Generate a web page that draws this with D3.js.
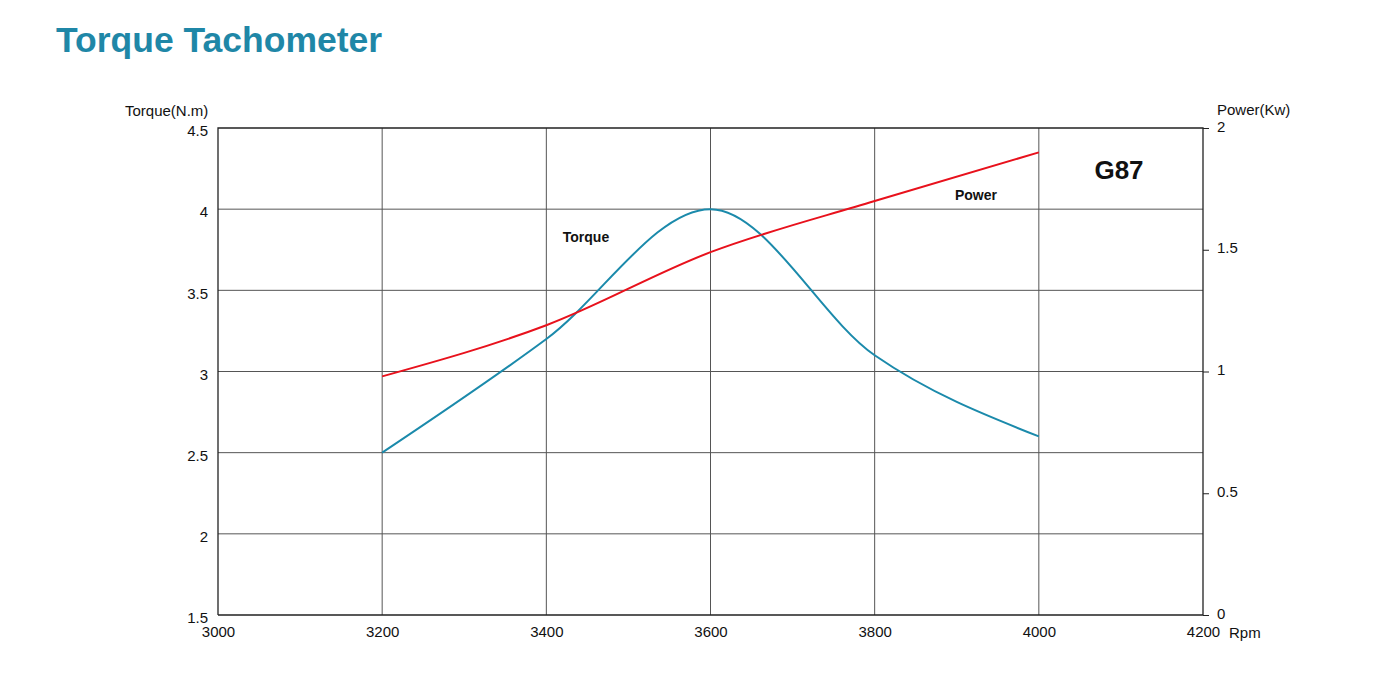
<!DOCTYPE html>
<html><head><meta charset="utf-8">
<script src="https://cdn.jsdelivr.net/npm/d3@7/dist/d3.min.js"></script>
<style>
body{margin:0;background:#fff;}
svg text{font-family:"Liberation Sans",Arial,sans-serif;}
</style></head>
<body><svg id="c" width="1400" height="683"></svg>
<script>
const rpm = [3200, 3400, 3600, 3800, 4000];
const torque = [2.5, 3.2, 4.0, 3.1, 2.6];
const power = [0.98, 1.19, 1.49, 1.70, 1.90];
const xTicks = [3000, 3200, 3400, 3600, 3800, 4000, 4200];
const yLeftTicks = [1.5, 2, 2.5, 3, 3.5, 4, 4.5];
const yRightTicks = [0, 0.5, 1, 1.5, 2];

const svg = d3.select("#c");
const L = 218, R = 1203, T = 128, B = 615;
const x = d3.scaleLinear().domain([3000, 4200]).range([L, R]);
const yL = d3.scaleLinear().domain([1.5, 4.5]).range([B, T]);
const yR = d3.scaleLinear().domain([0, 2]).range([B, T]);

svg.append("text").attr("x", 56).attr("y", 52).text("Torque Tachometer")
  .attr("font-size", 35.5).attr("font-weight", "bold").attr("fill", "#1f87a7");

// grid
const g = svg.append("g");
g.selectAll(".vg").data(xTicks.slice(1, -1)).join("line")
  .attr("x1", d => x(d)).attr("x2", d => x(d)).attr("y1", T).attr("y2", B)
  .attr("stroke", "#555").attr("stroke-width", 1);
g.selectAll(".hg").data(yLeftTicks.slice(1, -1)).join("line")
  .attr("x1", L).attr("x2", R).attr("y1", d => yL(d)).attr("y2", d => yL(d))
  .attr("stroke", "#555").attr("stroke-width", 1);

// frame (left, top, bottom, right)
svg.append("path").attr("d", `M${L},${B}V${T}H${R}V${B}H${L}`)
  .attr("fill", "none").attr("stroke", "#222").attr("stroke-width", 1.3);

// axes
const xAx = svg.append("g").attr("transform", `translate(0,${B})`)
  .call(d3.axisBottom(x).tickValues(xTicks).tickSize(0).tickPadding(11).tickFormat(d3.format("d")));
const yAxL = svg.append("g").attr("transform", `translate(${L},0)`)
  .call(d3.axisLeft(yL).tickValues(yLeftTicks).tickSize(0).tickPadding(10).tickFormat(d => d));
const yAxR = svg.append("g").attr("transform", `translate(${R},0)`)
  .call(d3.axisRight(yR).tickValues(yRightTicks).tickSize(6).tickPadding(8).tickFormat(d => d));
[xAx, yAxL, yAxR].forEach(a => {
  a.select(".domain").remove();
  a.selectAll("text").attr("font-size", 15).attr("fill", "#111")
    .attr("font-family", "'Liberation Sans',Arial,sans-serif");
  a.selectAll("line").attr("stroke", "#222");
});
yAxL.selectAll("text").attr("dy", "0.52em");
yAxR.selectAll("text").attr("dy", "0.2em");

svg.append("text").attr("x", 125).attr("y", 116).text("Torque(N.m)").attr("font-size", 15).attr("fill", "#111");
svg.append("text").attr("x", 1217).attr("y", 115).text("Power(Kw)").attr("font-size", 15).attr("fill", "#111");
svg.append("text").attr("x", 1229).attr("y", 638).text("Rpm").attr("font-size", 15).attr("fill", "#111");

// lines
const tData = rpm.map((r, i) => [r, torque[i]]);
const pData = rpm.map((r, i) => [r, power[i]]);
svg.append("path").datum(tData)
  .attr("d", d3.line().x(d => x(d[0])).y(d => yL(d[1])).curve(d3.curveMonotoneX))
  .attr("fill", "none").attr("stroke", "#1b8aab").attr("stroke-width", 2);
svg.append("path").datum(pData)
  .attr("d", d3.line().x(d => x(d[0])).y(d => yR(d[1])).curve(d3.curveMonotoneX))
  .attr("fill", "none").attr("stroke", "#e8111c").attr("stroke-width", 2);

svg.append("text").attr("x", 1119).attr("y", 179).attr("text-anchor", "middle").text("G87")
  .attr("font-size", 26).attr("font-weight", "bold").attr("fill", "#111");
svg.append("text").attr("x", 976).attr("y", 200).attr("text-anchor", "middle").text("Power")
  .attr("font-size", 14).attr("font-weight", "bold").attr("fill", "#111");
svg.append("text").attr("x", 586).attr("y", 242).attr("text-anchor", "middle").text("Torque")
  .attr("font-size", 14).attr("font-weight", "bold").attr("fill", "#111");
</script></body></html>
